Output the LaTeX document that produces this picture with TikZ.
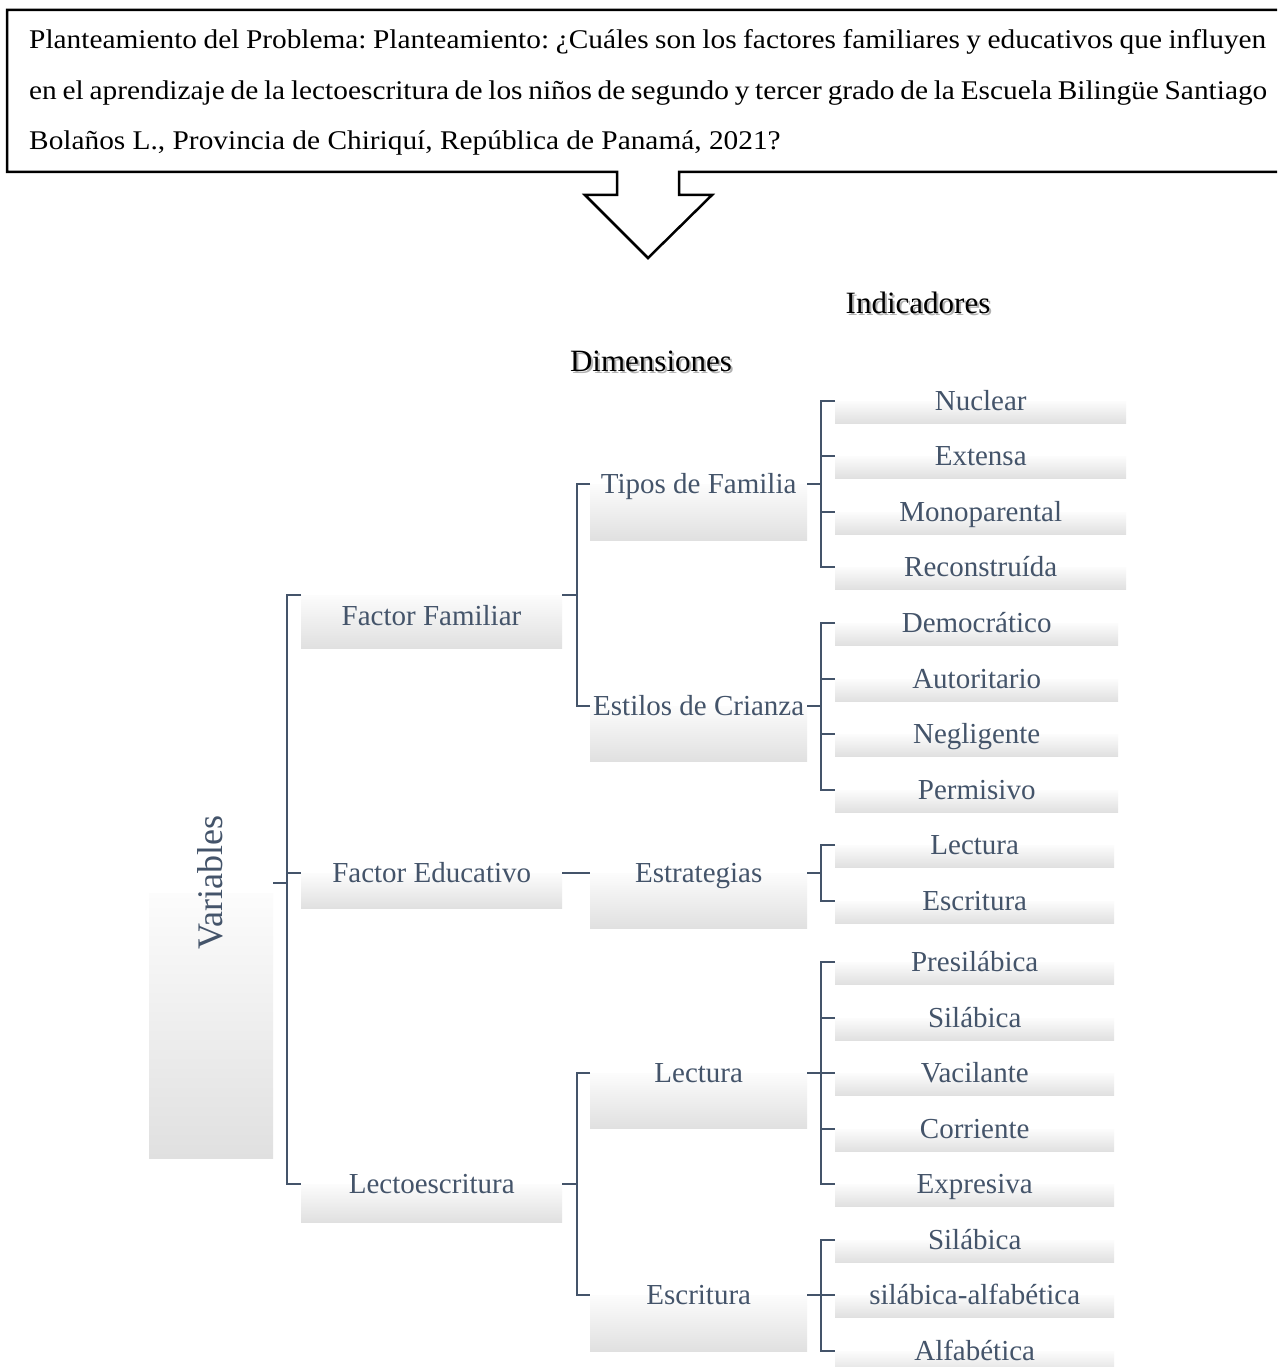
\documentclass[tikz,border=0pt]{standalone}
\usepackage{fontspec}
\setmainfont{Liberation Serif}
\newfontfamily\topfont[FakeStretch=1.087]{Liberation Serif}
\frenchspacing
\definecolor{slate}{RGB}{68,84,106}
\definecolor{boxgray}{RGB}{224,224,224}
\definecolor{boxtop}{RGB}{252,252,252}
\newcommand{\indbox}[4]{%
  \node[gbox,minimum width=#3,minimum height=22] (b#1) at (835,#2) {};
  \node[lbl] (t#1) at ([yshift=-9pt]b#1.north) {#4};}
\begin{document}
\begin{tikzpicture}[x=1pt,y=-1pt,
  conn/.style={draw=slate,line width=1.4pt},
  gbox/.style={draw=none,rectangle,inner sep=0,top color=boxtop,bottom color=boxgray,anchor=north west},
  lbl/.style={text=slate,font=\fontsize{29}{34}\selectfont,anchor=base,inner sep=0},
  hdr/.style={font=\fontsize{31}{36}\selectfont,anchor=base,inner sep=0},
  shd/.style={hdr,text=black!30}]
\useasboundingbox (0,0) rectangle (1277,1367);
\clip (0,0) rectangle (1277,1367);
\fill[white] (0,0) rectangle (1277,1367);

% problem statement callout
\draw[line width=2.5pt,line join=miter] (1300,10) -- (7,10) -- (7,172) -- (617,172) -- (617,195) -- (585,195) -- (648,258) -- (712,195) -- (679,195) -- (679,172) -- (1300,172) -- cycle;
\node[anchor=base west,inner sep=0] (p1) at (29,48.5) {\topfont\fontsize{27}{32}\selectfont\makebox[1237pt][s]{Planteamiento del Problema: Planteamiento: ¿Cuáles son los factores familiares y educativos que influyen}};
\node[anchor=base west,inner sep=0] (p2) at (29,99.5) {\topfont\fontsize{27}{32}\selectfont\makebox[1238pt][s]{en el aprendizaje de la lectoescritura de los niños de segundo y tercer grado de la Escuela Bilingüe Santiago}};
\node[anchor=base west,inner sep=0] (p3) at (29,150) {\topfont\fontsize{27}{32}\selectfont Bolaños L., Provincia de Chiriquí, República de Panamá, 2021?};

% headers
\node[shd] (sInd) at (920,315) {Indicadores};
\node[hdr] (hInd) at (918,313) {Indicadores};
\node[shd] (sDim) at (653,373) {Dimensiones};
\node[hdr] (hDim) at (651,371) {Dimensiones};

% variables
\node[gbox,minimum width=124,minimum height=265] (bVar) at (149,893) {};
\node[rotate=90,inner sep=0,text=slate,font=\fontsize{36}{40}\selectfont] (tVar) at (210,883) {Variables};

% factors
\node[gbox,minimum width=261,minimum height=53] (bFF) at (301,595) {};
\node[lbl] (tFF) at (431.5,625) {Factor Familiar};
\node[gbox,minimum width=261,minimum height=35] (bFE) at (301,873) {};
\node[lbl] (tFE) at ([yshift=-9pt]bFE.north) {Factor Educativo};
\node[gbox,minimum width=261,minimum height=38] (bLE) at (301,1184) {};
\node[lbl] (tLE) at ([yshift=-9pt]bLE.north) {Lectoescritura};

% dimensions
\node[gbox,minimum width=217,minimum height=56] (bTF) at (590,484) {};
\node[lbl] (tTF) at ([yshift=-9pt]bTF.north) {Tipos de Familia};
\node[gbox,minimum width=217,minimum height=55] (bEC) at (590,706) {};
\node[lbl] (tEC) at ([yshift=-9pt]bEC.north) {Estilos de Crianza};
\node[gbox,minimum width=217,minimum height=55] (bES) at (590,873) {};
\node[lbl] (tES) at ([yshift=-9pt]bES.north) {Estrategias};
\node[gbox,minimum width=217,minimum height=55] (bLC) at (590,1073) {};
\node[lbl] (tLC) at ([yshift=-9pt]bLC.north) {Lectura};
\node[gbox,minimum width=217,minimum height=56] (bEW) at (590,1295) {};
\node[lbl] (tEW) at ([yshift=-9pt]bEW.north) {Escritura};

% indicators
\indbox{Nuc}{401}{291}{Nuclear}
\indbox{Ext}{456}{291}{Extensa}
\indbox{Mon}{512}{291}{Monoparental}
\indbox{Rec}{567}{291}{Reconstruída}
\indbox{Dem}{623}{283}{Democrático}
\indbox{Aut}{679}{283}{Autoritario}
\indbox{Neg}{734}{283}{Negligente}
\indbox{Per}{790}{283}{Permisivo}
\indbox{ILe}{845}{279}{Lectura}
\indbox{IEs}{901}{279}{Escritura}
\indbox{Pre}{962}{279}{Presilábica}
\indbox{Sil}{1018}{279}{Silábica}
\indbox{Vac}{1073}{279}{Vacilante}
\indbox{Cor}{1129}{279}{Corriente}
\indbox{Exp}{1184}{279}{Expresiva}
\indbox{Ws}{1240}{279}{Silábica}
\indbox{Wsa}{1295}{279}{silábica-alfabética}
\indbox{Wal}{1351}{279}{Alfabética}

% junctions
\coordinate (vj) at (287,883);
\coordinate (fj) at (577,595);
\coordinate (lj) at (577,1184);
\coordinate (tj) at (821,484);
\coordinate (ej) at (821,706);
\coordinate (sj) at (821,873);
\coordinate (cj) at (821,1073);
\coordinate (wj) at (821,1295);

% connectors
\draw[conn] (bVar.east |- tVar.center) -- (vj);
\draw[conn] (bFF.north west) -| (vj) |- (bLE.north west);
\draw[conn] (vj |- bFE.north west) -- (bFE.north west);

\draw[conn] (bFF.north east) -- (fj);
\draw[conn] (bTF.north west) -| (fj) |- (bEC.north west);
\draw[conn] (bFE.north east) -- (bES.north west);
\draw[conn] (bLE.north east) -- (lj);
\draw[conn] (bLC.north west) -| (lj) |- (bEW.north west);

\draw[conn] (bTF.north east) -- (tj);
\draw[conn] (bNuc.north west) -| (tj) |- (bRec.north west);
\draw[conn] (tj |- bExt.north west) -- (bExt.north west);
\draw[conn] (tj |- bMon.north west) -- (bMon.north west);

\draw[conn] (bEC.north east) -- (ej);
\draw[conn] (bDem.north west) -| (ej) |- (bPer.north west);
\draw[conn] (ej |- bAut.north west) -- (bAut.north west);
\draw[conn] (ej |- bNeg.north west) -- (bNeg.north west);

\draw[conn] (bES.north east) -- (sj);
\draw[conn] (bILe.north west) -| (sj) |- (bIEs.north west);

\draw[conn] (bLC.north east) -- (cj);
\draw[conn] (bPre.north west) -| (cj) |- (bExp.north west);
\draw[conn] (cj |- bSil.north west) -- (bSil.north west);
\draw[conn] (cj |- bVac.north west) -- (bVac.north west);
\draw[conn] (cj |- bCor.north west) -- (bCor.north west);

\draw[conn] (bEW.north east) -- (wj);
\draw[conn] (bWs.north west) -| (wj) |- (bWal.north west);
\draw[conn] (wj |- bWsa.north west) -- (bWsa.north west);
\end{tikzpicture}
\end{document}
